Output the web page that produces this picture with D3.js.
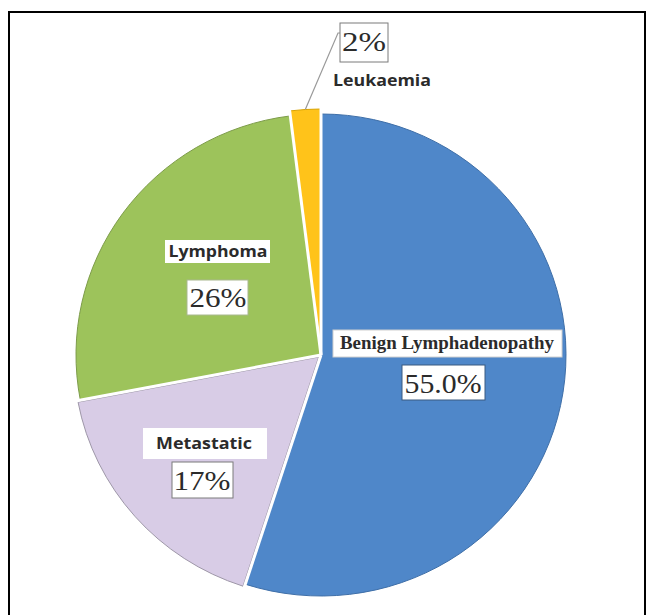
<!DOCTYPE html>
<html>
<head>
<meta charset="utf-8">
<script src="https://cdn.jsdelivr.net/npm/d3@7"></script>
<style>
  html, body { margin: 0; padding: 0; background: #fff; }
  svg { display: block; }
</style>
</head>
<body>
<div id="chart"></div>
<script>
// ---- data ----
const categories = ["Benign Lymphadenopathy", "Metastatic", "Lymphoma", "Leukaemia"];
const values = [55, 17, 26, 2];
const valueLabels = ["55.0%", "17%", "26%", "2%"];

// ---- styles ----
const colors = ["#4F87C9", "#D8CCE6", "#9DC35B", "#FFC31A"];
const edgeColors = ["#3f6fa8", "#9e97a8", "#7d9c4a", "#d9a300"];
const explode = [0, 3, 0, 5];

const W = 653, H = 615;
const cx = 321, cy = 355, R = 241, RX = 245;

const svg = d3.select("#chart").append("svg").attr("width", W).attr("height", H);

// frame
svg.append("path")
  .attr("d", `M9,${H + 5} L9,12 L645,12 L645,${H + 5}`)
  .attr("fill", "none").attr("stroke", "#000").attr("stroke-width", 2);

const pie = d3.pie().sort(null).value(d => d.v)
  .startAngle(0).endAngle(2 * Math.PI);
const data = categories.map((c, i) => ({ c, v: values[i], i }));
const arcs = pie(data);
const arc = d3.arc().innerRadius(0).outerRadius(R);

const g = svg.append("g").attr("transform", `translate(${cx},${cy}) scale(${RX / R},1)`);

g.selectAll("path.slice").data(arcs).enter().append("path")
  .attr("class", "slice")
  .attr("transform", d => {
    const a = (d.startAngle + d.endAngle) / 2, e = explode[d.data.i];
    return `translate(${e * Math.sin(a)},${-e * Math.cos(a)})`;
  })
  .attr("d", arc)
  .attr("fill", d => colors[d.data.i])
  .attr("stroke", d => edgeColors[d.data.i])
  .attr("stroke-width", 1)
  .attr("vector-effect", "non-scaling-stroke");

// white separators between slices
g.selectAll("line.sep").data(arcs).enter().append("line")
  .attr("class", "sep")
  .attr("x1", 0).attr("y1", 0)
  .attr("x2", d => (R + 6) * Math.sin(d.startAngle))
  .attr("y2", d => -(R + 6) * Math.cos(d.startAngle))
  .attr("stroke", "#fff").attr("stroke-width", 3)
  .attr("vector-effect", "non-scaling-stroke");

// leader line for Leukaemia
const leuk = arcs[3];
const la = (leuk.startAngle + leuk.endAngle) / 2;
const lx = (R + explode[3]) * Math.sin(la) * RX / R, ly = -(R + explode[3]) * Math.cos(la);
svg.append("polyline")
  .attr("points", `${cx + lx},${cy + ly} ${338},${33} ${341},${33}`)
  .attr("fill", "none").attr("stroke", "#9a9a9a").attr("stroke-width", 1.2);

// labels
const serif = "'Liberation Serif','Times New Roman',serif";
const sans = "'Open Sans','Liberation Sans',sans-serif";
const labels = [
  { t: categories[0], x: 447, y: 349, s: 18, f: serif, w: 700, len: 214, bx: 333, bw: 229, by: 330, bh: 27, border: "#d0d0d0" },
  { t: valueLabels[0], x: 443, y: 393, s: 28, f: serif, w: 400, len: 77, bx: 402, bw: 83, by: 365, bh: 35, border: "#3a5a80" },
  { t: categories[2], x: 218, y: 257, s: 16, f: sans, w: 700, len: 99, bx: 165, bw: 105, by: 240, bh: 23, border: null },
  { t: valueLabels[2], x: 218, y: 307, s: 27, f: serif, w: 400, len: 57, bx: 187, bw: 61, by: 280, bh: 35, border: "#a9b88f" },
  { t: categories[1], x: 204, y: 449, s: 16, f: sans, w: 700, len: 96, bx: 143, bw: 124, by: 428, bh: 31, border: null },
  { t: valueLabels[1], x: 202, y: 490, s: 27, f: serif, w: 400, len: 57, bx: 172, bw: 61, by: 462, bh: 36, border: "#7b7b7b" },
  { t: valueLabels[3], x: 364, y: 51, s: 27, f: serif, w: 400, len: 44, bx: 340, bw: 48, by: 23, bh: 39, border: "#7b7b7b" },
  { t: categories[3], x: 382, y: 86, s: 16, f: sans, w: 700, len: 98, bx: null },
];

const lg = svg.append("g");
labels.forEach(L => {
  if (L.bx !== null) {
    lg.append("rect")
      .attr("x", L.bx).attr("y", L.by).attr("width", L.bw).attr("height", L.bh)
      .attr("fill", "#fff")
      .attr("stroke", L.border || "none").attr("stroke-width", 1);
  }
  lg.append("text")
    .attr("x", L.x).attr("y", L.y)
    .attr("text-anchor", "middle")
    .attr("font-family", L.f).attr("font-size", L.s).attr("font-weight", L.w)
    .attr("fill", "#2b2b2b")
    .attr("textLength", L.len).attr("lengthAdjust", "spacingAndGlyphs")
    .text(L.t);
});
</script>
</body>
</html>
